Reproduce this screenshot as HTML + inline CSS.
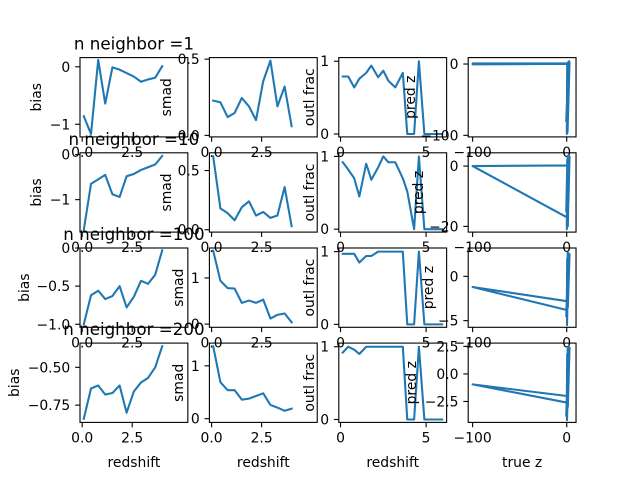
<!DOCTYPE html>
<html><head><meta charset="utf-8"><style>
html,body{margin:0;padding:0;background:#fff;}
svg{display:block;font-family:"DejaVu Sans","Liberation Sans",sans-serif;}
</style></head><body>
<svg id="fig" width="640" height="480" xmlns="http://www.w3.org/2000/svg"></svg>
<script>
// ---- data ----
const titles = ["n neighbor =1","n neighbor =10","n neighbor =100","n neighbor =200"];
const zbins = [0.08,0.44,0.8,1.15,1.51,1.87,2.22,2.58,2.94,3.29,3.65,4.0];
const biasR1 = [-0.86,-1.17,0.12,-0.64,-0.01,-0.05,-0.11,-0.17,-0.26,-0.22,-0.19,0.01];
const biasR2 = [-1.67,-0.65,-0.55,-0.45,-0.88,-0.94,-0.48,-0.43,-0.34,-0.28,-0.22,-0.03];
const biasR3 = [-1.0,-0.62,-0.56,-0.67,-0.63,-0.5,-0.78,-0.64,-0.43,-0.47,-0.35,-0.03];
const biasR4 = [-0.84,-0.64,-0.62,-0.68,-0.67,-0.62,-0.8,-0.66,-0.6,-0.57,-0.5,-0.36];
const smadR1 = [0.228,0.217,0.12,0.147,0.245,0.19,0.1,0.355,0.49,0.19,0.32,0.06];
const smadR2 = [0.62,0.18,0.14,0.08,0.19,0.24,0.12,0.15,0.1,0.12,0.36,0.03];
const smadR3 = [1.59,0.94,0.78,0.77,0.46,0.51,0.46,0.53,0.12,0.2,0.23,0.04];
const smadR4 = [1.37,0.69,0.54,0.54,0.36,0.38,0.43,0.48,0.26,0.21,0.15,0.19];
const obins = [0.13,0.45,0.8,1.1,1.5,1.8,2.2,2.5,2.8,3.2,3.64,3.9,4.3,4.58,4.9,5.3,5.94];
const outlR1 = [0.79,0.79,0.64,0.76,0.84,0.94,0.78,0.87,0.73,0.64,0.84,0,0,1.0,0,0,0];
const outlR2 = [0.92,0.82,0.7,0.45,0.9,0.68,0.85,1.0,0.92,0.92,0.7,0.52,0,1.0,0,0,0];
const outlR3 = [0.97,0.97,0.97,0.85,0.94,0.94,1.0,1.0,1.0,1.0,1.0,0,0,1.0,0,0,0];
const outlR4 = [0.92,1.0,0.96,0.9,1.0,1.0,1.0,1.0,1.0,1.0,1.0,0,0,1.0,0,0,0];
const trueR1 = [0.2,-100,-100,0.5,0.1,1.5,0.8,2.0,0.3,1.0,2.5,0.6,1.8,-0.5,3.0,0.9,2.2];
const predR1 = [0.3,-0.5,0.8,1.0,-98,2.0,-60,3.0,-40,1.5,4.0,-97,0.8,-80,2.5,-95,1.0];
const trueR2 = [0.3,-100,0.2,0.5,0.1,1.0,0.4,1.5,0.8,2.0,0.3,2.5,1.2,0.6,-0.5,3.0,1.8,2.6];
const predR2 = [0.2,0,-17,2,-21,3,-10,3.5,-19,2.5,-5,3,-20,1,-15,3.2,-12,2.8];
const trueR3 = [0.2,-100,0.1,0.5,0.3,1.0,0.6,1.5,0.4,2.0,0.8,2.5,0.5,-0.5,3.0,1.2,2.7];
const predR3 = [-2.8,-1.2,-3.8,2.0,-5.5,2.7,-4.0,2.2,-5.2,2.6,-3.0,2.4,-1.0,-4.5,2.5,-3.5,2.0];
const trueR4 = [0.2,-100,0.1,0.5,0.3,1.0,0.6,1.5,0.4,2.0,0.8,2.5,0.5,-0.5,3.0,1.2,2.7];
const predR4 = [-2.0,-0.95,-2.6,1.8,-4.2,2.3,-3.5,1.5,-4.0,2.5,-2.0,2.2,-1.0,-3.8,2.4,-3.0,1.6];

const rowsTop = [57.6,152.8,248.0,343.1];
const colsLeft = [80,209.4,338.8,468.2];
const W = 107.83, H = 79.3;
const TL = 4.86, FS = 13.9;
const NS = "http://www.w3.org/2000/svg";
const svg = document.getElementById('fig');
function mk(tag, attrs, parent){const e=document.createElementNS(NS,tag);for(const k in attrs)e.setAttribute(k,attrs[k]);(parent||svg).appendChild(e);return e;}
function fmt(s){return String(s).replace('-','\u2212');}

const panels = [
 {r:0,c:0,xs:zbins,ys:biasR1,xl:[-0.11,5.28],yl:[-1.22,0.16],yt:[0,-1],ytl:["0","-1"],xt:[0,2.5],xtl:["0.0","2.5"],ylab:"bias",lx:36,name:"bias"},
 {r:0,c:1,xs:zbins,ys:smadR1,xl:[-0.11,5.28],yl:[-0.01,0.51],yt:[0,0.5],ytl:["0.0","0.5"],xt:[0,2.5],xtl:["0.0","2.5"],ylab:"smad",lx:166,name:"smad"},
 {r:0,c:2,xs:obins,ys:outlR1,xl:[-0.1,6.2],yl:[-0.04,1.05],yt:[0,1],ytl:["0","1"],xt:[0,5],xtl:["0","5"],ylab:"outl frac",lx:309,name:"outl"},
 {r:0,c:3,xs:trueR1,ys:predR1,xl:[-104.7,9.9],yl:[-102.2,9],yt:[0,-100],ytl:["0","-100"],xt:[-100,0],xtl:["-100","0"],ylab:"pred z",lx:410,name:"predz"},
 {r:1,c:0,xs:zbins,ys:biasR2,xl:[-0.11,5.28],yl:[-1.72,0.04],yt:[0,-1],ytl:["0","-1"],xt:[0,2.5],xtl:["0.0","2.5"],ylab:"bias",lx:36,name:"bias"},
 {r:1,c:1,xs:zbins,ys:smadR2,xl:[-0.11,5.28],yl:[-0.02,0.65],yt:[0,0.5],ytl:["0.0","0.5"],xt:[0,2.5],xtl:["0.0","2.5"],ylab:"smad",lx:166,name:"smad"},
 {r:1,c:2,xs:obins,ys:outlR2,xl:[-0.1,6.2],yl:[-0.04,1.05],yt:[0,1],ytl:["0","1"],xt:[0,5],xtl:["0","5"],ylab:"outl frac",lx:309,name:"outl"},
 {r:1,c:3,xs:trueR2,ys:predR2,xl:[-104.7,9.9],yl:[-21.9,4.4],yt:[0,-20],ytl:["0","-20"],xt:[-100,0],xtl:["-100","0"],ylab:"pred z",lx:418,name:"predz"},
 {r:2,c:0,xs:zbins,ys:biasR3,xl:[-0.11,5.28],yl:[-1.04,0.0],yt:[0,-0.5,-1],ytl:["0","-0.5","-1.0"],xt:[0,2.5],xtl:["0.0","2.5"],ylab:"bias",lx:24,name:"bias"},
 {r:2,c:1,xs:zbins,ys:smadR3,xl:[-0.11,5.28],yl:[-0.07,1.65],yt:[0,1],ytl:["0","1"],xt:[0,2.5],xtl:["0.0","2.5"],ylab:"smad",lx:178,name:"smad"},
 {r:2,c:2,xs:obins,ys:outlR3,xl:[-0.1,6.2],yl:[-0.04,1.05],yt:[0,1],ytl:["0","1"],xt:[0,5],xtl:["0","5"],ylab:"outl frac",lx:309,name:"outl"},
 {r:2,c:3,xs:trueR3,ys:predR3,xl:[-104.7,9.9],yl:[-5.75,3.2],yt:[0,-5],ytl:["0","-5"],xt:[-100,0],xtl:["-100","0"],ylab:"pred z",lx:428,name:"predz"},
 {r:3,c:0,xs:zbins,ys:biasR4,xl:[-0.11,5.28],yl:[-0.864,-0.34],yt:[-0.5,-0.75],ytl:["-0.50","-0.75"],xt:[0,2.5],xtl:["0.0","2.5"],ylab:"bias",lx:14,name:"bias"},
 {r:3,c:1,xs:zbins,ys:smadR4,xl:[-0.11,5.28],yl:[-0.07,1.43],yt:[0,1],ytl:["0","1"],xt:[0,2.5],xtl:["0.0","2.5"],ylab:"smad",lx:178,name:"smad"},
 {r:3,c:2,xs:obins,ys:outlR4,xl:[-0.1,6.2],yl:[-0.04,1.05],yt:[0,1],ytl:["0","1"],xt:[0,5],xtl:["0","5"],ylab:"outl frac",lx:309,name:"outl"},
 {r:3,c:3,xs:trueR4,ys:predR4,xl:[-104.7,9.9],yl:[-4.4,2.8],yt:[2.5,0,-2.5],ytl:["2.5","0.0","-2.5"],xt:[-100,0],xtl:["-100","0"],ylab:"pred z",lx:411,name:"predz"}
];

panels.forEach(p=>{
  const L=colsLeft[p.c], T=rowsTop[p.r], B=T+H;
  const g=mk('g',{});
  
  
  const sx=v=>L+(v-p.xl[0])/(p.xl[1]-p.xl[0])*W;
  const sy=v=>B-(v-p.yl[0])/(p.yl[1]-p.yl[0])*H;
  const cp=mk('clipPath',{id:'cp'+p.r+p.c},g);
  mk('rect',{x:L,y:T,width:W,height:H},cp);
  const pts=p.xs.map((x,i)=>sx(x).toFixed(2)+','+sy(p.ys[i]).toFixed(2)).join(' ');
  const line=mk('polyline',{points:pts,fill:'none',stroke:'#1f77b4','stroke-width':2.08,'stroke-linejoin':'round','stroke-linecap':'square','clip-path':'url(#cp'+p.r+p.c+')'},g);
  
  
  const frame=mk('rect',{x:L,y:T,width:W,height:H,fill:'none',stroke:'#000','stroke-width':1.1},g);
  
  
  p.yt.forEach((v,i)=>{
    const y=sy(v);
    mk('line',{x1:L-TL,x2:L,y1:y,y2:y,stroke:'#000','stroke-width':1.1},g);
    const t=mk('text',{x:L-TL-4.86,y:y+5,'text-anchor':'end','font-size':FS},g);
    t.textContent=fmt(p.ytl[i]);
    
    
  });
  p.xt.forEach((v,i)=>{
    const x=sx(v);
    mk('line',{x1:x,x2:x,y1:B,y2:B+TL,stroke:'#000','stroke-width':1.1},g);
    const t=mk('text',{x:x,y:B+TL+4.86+10.3,'text-anchor':'middle','font-size':FS},g);
    t.textContent=fmt(p.xtl[i]);
    
    
  });
  const cy=T+H/2, bx=p.lx+5;
  const yl=mk('text',{x:bx,y:cy,'text-anchor':'middle','font-size':FS,transform:'rotate(-90 '+bx+' '+cy+')'},g);
  yl.textContent=p.ylab;
  
  
  if(p.r===3){
    const xl=mk('text',{x:L+W/2,y:467,'text-anchor':'middle','font-size':FS},g);
    xl.textContent=p.c===3?'true z':'redshift';
    
    
  }
  if(p.c===0){
    const tt=mk('text',{x:L+W/2,y:T-8,'text-anchor':'middle','font-size':16.7},g);
    tt.textContent=titles[p.r];
    
    
  }
});
</script>
</body></html>
